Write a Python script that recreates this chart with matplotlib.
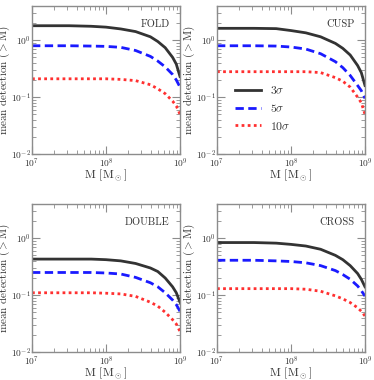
"""Mean detection counts above mass M for four lens image configurations."""

import matplotlib
matplotlib.use("Agg")
import matplotlib.pyplot as plt
import numpy as np

# log10 of halo mass [Msun] at which the curves are sampled
log_mass = [7.0, 7.5, 7.8, 8.0, 8.2, 8.4, 8.6, 8.7, 8.8, 8.9, 8.95, 9.0]

fold_3 = [1.80, 1.80, 1.76, 1.70, 1.58, 1.42, 1.15, 0.95, 0.74, 0.50, 0.38, 0.23]
fold_5 = [0.80, 0.80, 0.79, 0.78, 0.75, 0.66, 0.52, 0.43, 0.34, 0.25, 0.20, 0.15]
fold_10 = [0.21, 0.21, 0.21, 0.21, 0.205, 0.195, 0.165, 0.14, 0.115, 0.085, 0.07, 0.05]

cusp_3 = [1.62, 1.62, 1.60, 1.48, 1.35, 1.15, 0.88, 0.72, 0.55, 0.36, 0.27, 0.16]
cusp_5 = [0.80, 0.80, 0.79, 0.76, 0.70, 0.58, 0.42, 0.33, 0.24, 0.16, 0.13, 0.095]
cusp_10 = [0.28, 0.28, 0.28, 0.28, 0.28, 0.27, 0.22, 0.19, 0.15, 0.10, 0.08, 0.05]

double_3 = [0.43, 0.43, 0.43, 0.42, 0.40, 0.36, 0.30, 0.26, 0.20, 0.14, 0.11, 0.075]
double_5 = [0.25, 0.25, 0.25, 0.245, 0.235, 0.205, 0.165, 0.14, 0.11, 0.082, 0.068, 0.052]
double_10 = [0.11, 0.11, 0.11, 0.108, 0.105, 0.095, 0.075, 0.064, 0.05, 0.037, 0.031, 0.023]

cross_3 = [0.84, 0.84, 0.82, 0.78, 0.73, 0.64, 0.50, 0.42, 0.33, 0.24, 0.19, 0.14]
cross_5 = [0.41, 0.41, 0.40, 0.39, 0.37, 0.33, 0.27, 0.23, 0.19, 0.145, 0.12, 0.096]
cross_10 = [0.13, 0.13, 0.13, 0.13, 0.127, 0.117, 0.097, 0.086, 0.074, 0.06, 0.052, 0.043]

panel_names = ["FOLD", "CUSP", "DOUBLE", "CROSS"]
panel_data = [
    (fold_3, fold_5, fold_10),
    (cusp_3, cusp_5, cusp_10),
    (double_3, double_5, double_10),
    (cross_3, cross_5, cross_10),
]
sigma_labels = [r"3$\sigma$", r"5$\sigma$", r"10$\sigma$"]

INK = "#333333"
SPINE = "#8c8c8c"
styles = [
    dict(color="#333333", ls="-", lw=2.0),
    dict(color="#1a1aff", ls=(0, (3, 1.6)), lw=2.0),
    dict(color="#ff3030", ls=(0, (1, 1.2)), lw=2.0),
]

plt.rcParams.update({
    "font.family": "cmr10",
    "mathtext.fontset": "cm",
    "axes.formatter.use_mathtext": True,
    "font.size": 9,
    "axes.edgecolor": SPINE,
    "axes.linewidth": 1.0,
    "xtick.color": SPINE, "ytick.color": SPINE,
    "xtick.labelcolor": INK, "ytick.labelcolor": INK,
})

fig = plt.figure(figsize=(3.74, 3.80), dpi=100)
W, H = 374, 380
boxes = [(32, 6), (217, 6), (32, 204), (217, 204)]  # left, top in px
aw, ah = 148, 148

mass = 10 ** np.array(log_mass)
for (left, top), name, curves in zip(boxes, panel_names, panel_data):
    ax = fig.add_axes([left / W, 1 - (top + ah) / H, aw / W, ah / H])
    for vals, st, lab in zip(curves, styles, sigma_labels):
        ax.plot(mass, vals, label=lab, **st)
    ax.set_xscale("log")
    ax.set_yscale("log")
    ax.set_xlim(1e7, 1e9)
    ax.set_ylim(1e-2, 4)
    ax.tick_params(which="both", direction="in", top=True, right=True, labelsize=6.8)
    ax.tick_params(axis="x", pad=2)
    ax.tick_params(axis="y", pad=1)
    ax.tick_params(which="major", length=6)
    ax.tick_params(which="minor", length=3)
    ax.set_xlabel(r"M [M$_\odot$]", fontsize=8.5, color=INK)
    ax.set_ylabel(r"mean detection ($>$M)", fontsize=8, color=INK)
    ax.yaxis.set_label_coords(-0.134, 0.5)
    ax.xaxis.set_label_coords(0.5, -0.095)
    ax.text(0.93, 0.91, name, transform=ax.transAxes, ha="right", va="top",
            fontsize=7.5, color=INK)
    if name == "CUSP":
        ax.legend(loc="lower left", bbox_to_anchor=(0.05, 0.08), frameon=False,
                  fontsize=8.5, handlelength=2.2, labelspacing=0.5, labelcolor=INK)

fig.savefig("out.png", dpi=100)
